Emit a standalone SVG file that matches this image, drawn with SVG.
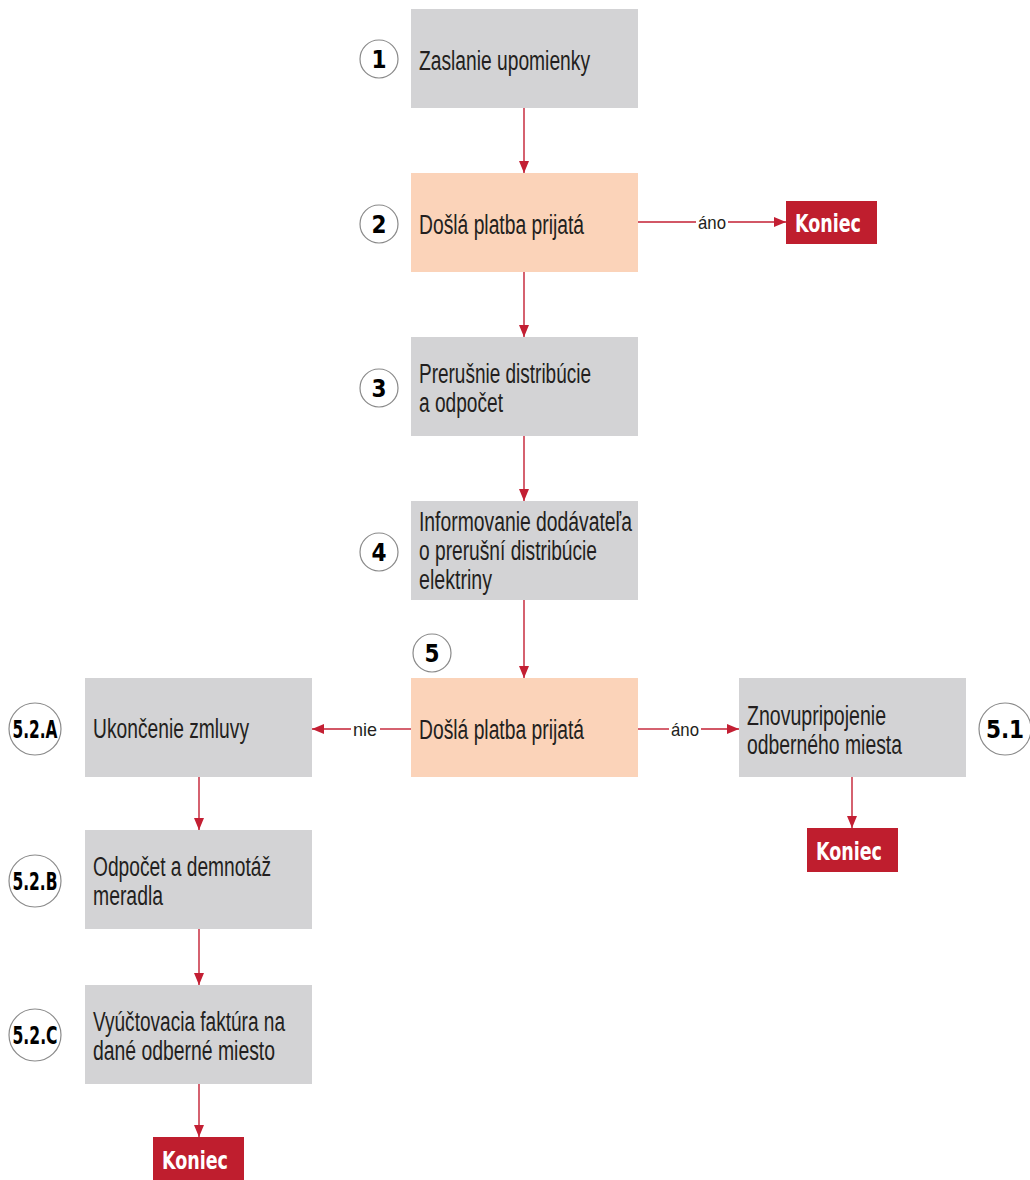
<svg xmlns="http://www.w3.org/2000/svg" width="1030" height="1180" viewBox="0 0 1030 1180">
<defs>
<style>
.box{fill:#D3D3D5}
.dec{fill:#FBD3B9}
.end{fill:#BF1E2E}
.t{font-family:"Liberation Sans",Arial,sans-serif;font-size:27px;fill:#231F20}
.n{font-family:"DejaVu Sans Condensed","Liberation Sans",sans-serif;font-size:24px;font-weight:bold;fill:#000;text-anchor:middle}
.k{font-family:"DejaVu Sans Condensed","Liberation Sans",sans-serif;font-size:25px;font-weight:bold;fill:#fff}
.l{font-family:"Liberation Sans",Arial,sans-serif;font-size:19px;fill:#231F20}
.c{fill:#fff;stroke:#8a8a8a;stroke-width:1.2}
.e{stroke:#C31F33;stroke-width:1.4;fill:none}
</style>
<marker id="ah" viewBox="0 0 12 10" refX="12" refY="5" markerWidth="12" markerHeight="10" markerUnits="userSpaceOnUse" orient="auto">
<path d="M0,0 L12,5 L0,10 Z" fill="#C31F33"/>
</marker>
</defs>

<g id="connectors">
<line class="e" x1="524" y1="107" x2="524" y2="173" marker-end="url(#ah)"/>
<line class="e" x1="524" y1="271" x2="524" y2="337" marker-end="url(#ah)"/>
<line class="e" x1="524" y1="435" x2="524" y2="501" marker-end="url(#ah)"/>
<line class="e" x1="524" y1="599" x2="524" y2="678" marker-end="url(#ah)"/>
<line class="e" x1="638" y1="222" x2="696" y2="222"/>
<line class="e" x1="728" y1="222" x2="786" y2="222" marker-end="url(#ah)"/>
<text class="l" x="698" y="229" textLength="28" lengthAdjust="spacingAndGlyphs">áno</text>
<line class="e" x1="411" y1="729" x2="380" y2="729"/>
<line class="e" x1="351" y1="729" x2="312" y2="729" marker-end="url(#ah)"/>
<text class="l" x="353" y="736" textLength="24" lengthAdjust="spacingAndGlyphs">nie</text>
<line class="e" x1="638" y1="729" x2="669" y2="729"/>
<line class="e" x1="701" y1="729" x2="739" y2="729" marker-end="url(#ah)"/>
<text class="l" x="671" y="736" textLength="28" lengthAdjust="spacingAndGlyphs">áno</text>
<line class="e" x1="852" y1="776" x2="852" y2="828" marker-end="url(#ah)"/>
<line class="e" x1="199" y1="776" x2="199" y2="830" marker-end="url(#ah)"/>
<line class="e" x1="199" y1="928" x2="199" y2="985" marker-end="url(#ah)"/>
<line class="e" x1="199" y1="1083" x2="199" y2="1137" marker-end="url(#ah)"/>
</g>

<g id="n1">
<rect class="box" x="411" y="9" width="227" height="99"/>
<circle class="c" cx="379" cy="59" r="19"/>
<text class="n" x="379" y="68">1</text>
<text class="t" x="419" y="70" textLength="171" lengthAdjust="spacingAndGlyphs">Zaslanie upomienky</text>
</g>

<g id="n2">
<rect class="dec" x="411" y="173" width="227" height="99"/>
<circle class="c" cx="379" cy="224" r="19"/>
<text class="n" x="379" y="233">2</text>
<text class="t" x="419" y="234" textLength="165" lengthAdjust="spacingAndGlyphs">Došlá platba prijatá</text>
</g>

<g id="end1">
<rect class="end" x="786" y="201" width="91" height="43"/>
<text class="k" x="795" y="232" textLength="66" lengthAdjust="spacingAndGlyphs">Koniec</text>
</g>

<g id="n3">
<rect class="box" x="411" y="337" width="227" height="99"/>
<circle class="c" cx="379" cy="388" r="19"/>
<text class="n" x="379" y="397">3</text>
<text class="t" x="419" y="383" textLength="172" lengthAdjust="spacingAndGlyphs">Prerušnie distribúcie</text>
<text class="t" x="419" y="412" textLength="84" lengthAdjust="spacingAndGlyphs">a odpočet</text>
</g>

<g id="n4">
<rect class="box" x="411" y="501" width="227" height="99"/>
<circle class="c" cx="379" cy="552" r="19"/>
<text class="n" x="379" y="561">4</text>
<text class="t" x="419" y="531" textLength="213" lengthAdjust="spacingAndGlyphs">Informovanie dodávateľa</text>
<text class="t" x="419" y="560" textLength="178" lengthAdjust="spacingAndGlyphs">o prerušní distribúcie</text>
<text class="t" x="419" y="589" textLength="73" lengthAdjust="spacingAndGlyphs">elektriny</text>
</g>

<g id="n5">
<rect class="dec" x="411" y="678" width="227" height="99"/>
<circle class="c" cx="432" cy="653" r="19"/>
<text class="n" x="432" y="662">5</text>
<text class="t" x="419" y="739" textLength="165" lengthAdjust="spacingAndGlyphs">Došlá platba prijatá</text>
</g>

<g id="n51">
<rect class="box" x="739" y="678" width="227" height="99"/>
<circle class="c" cx="1005" cy="729" r="26"/>
<text class="n" x="1005" y="738">5.1</text>
<text class="t" x="747" y="725" textLength="139" lengthAdjust="spacingAndGlyphs">Znovupripojenie</text>
<text class="t" x="747" y="754" textLength="155" lengthAdjust="spacingAndGlyphs">odberného miesta</text>
</g>

<g id="end2">
<rect class="end" x="807" y="828" width="91" height="44"/>
<text class="k" x="816" y="860" textLength="66" lengthAdjust="spacingAndGlyphs">Koniec</text>
</g>

<g id="n52a">
<rect class="box" x="85" y="678" width="227" height="99"/>
<circle class="c" cx="35" cy="729" r="26"/>
<text class="n" x="35" y="738" textLength="45" lengthAdjust="spacingAndGlyphs">5.2.A</text>
<text class="t" x="93" y="738" textLength="156" lengthAdjust="spacingAndGlyphs">Ukončenie zmluvy</text>
</g>

<g id="n52b">
<rect class="box" x="85" y="830" width="227" height="99"/>
<circle class="c" cx="35" cy="881" r="26"/>
<text class="n" x="35" y="890" textLength="45" lengthAdjust="spacingAndGlyphs">5.2.B</text>
<text class="t" x="93" y="876" textLength="178" lengthAdjust="spacingAndGlyphs">Odpočet a demnotáž</text>
<text class="t" x="93" y="905" textLength="70" lengthAdjust="spacingAndGlyphs">meradla</text>
</g>

<g id="n52c">
<rect class="box" x="85" y="985" width="227" height="99"/>
<circle class="c" cx="35" cy="1035" r="26"/>
<text class="n" x="35" y="1044" textLength="45" lengthAdjust="spacingAndGlyphs">5.2.C</text>
<text class="t" x="93" y="1031" textLength="192" lengthAdjust="spacingAndGlyphs">Vyúčtovacia faktúra na</text>
<text class="t" x="93" y="1060" textLength="182" lengthAdjust="spacingAndGlyphs">dané odberné miesto</text>
</g>

<g id="end3">
<rect class="end" x="153" y="1137" width="91" height="43"/>
<text class="k" x="162" y="1169" textLength="66" lengthAdjust="spacingAndGlyphs">Koniec</text>
</g>
</svg>
